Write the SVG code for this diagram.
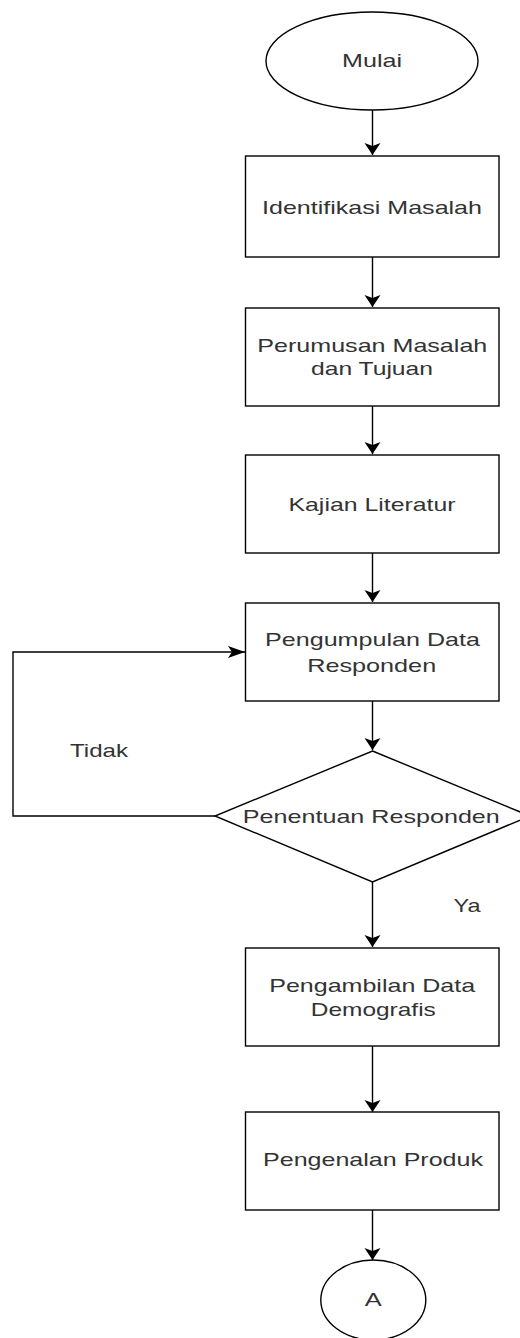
<svg xmlns="http://www.w3.org/2000/svg" width="520" height="1338" viewBox="0 0 520 1338">
<defs>
<style>
.s{fill:#fff;stroke:#000;stroke-width:1.4}
.t{font-family:"Liberation Sans",Arial,sans-serif;font-size:19px;fill:#333;text-anchor:middle}
.c{fill:none;stroke:#000;stroke-width:1.4}
</style>
<marker id="ad" markerUnits="userSpaceOnUse" orient="auto" markerWidth="20" markerHeight="20" refX="0" refY="0" viewBox="-14 -10 16 20" overflow="visible">
<path d="M-12,-8 L0,0 L-12,8 L-9,0 Z" fill="#000"/>
</marker>
<marker id="ar" markerUnits="userSpaceOnUse" orient="auto" markerWidth="20" markerHeight="20" refX="0" refY="0" viewBox="-18 -7 20 14" overflow="visible">
<path d="M-17,-6 L0,0 L-17,6 L-13,0 Z" fill="#000"/>
</marker>
</defs>
<g id="connectors">
<path class="c" d="M372.5,110 V155" marker-end="url(#ad)"/>
<path class="c" d="M372.5,257 V307" marker-end="url(#ad)"/>
<path class="c" d="M372.5,406 V454" marker-end="url(#ad)"/>
<path class="c" d="M372.5,553 V602" marker-end="url(#ad)"/>
<path class="c" d="M372.5,701 V750" marker-end="url(#ad)"/>
<path class="c" d="M372.5,882 V947" marker-end="url(#ad)"/>
<path class="c" d="M372.5,1046 V1112" marker-end="url(#ad)"/>
<path class="c" d="M372.5,1210 V1260" marker-end="url(#ad)"/>
<path class="c" d="M215,816 H13 V652 H245" marker-end="url(#ar)"/>
<text class="t" x="99" y="757" textLength="58" lengthAdjust="spacingAndGlyphs">Tidak</text>
<text class="t" x="467" y="912" textLength="27" lengthAdjust="spacingAndGlyphs">Ya</text>
</g>
<g id="mulai">
<ellipse class="s" cx="372" cy="61" rx="106" ry="49"/>
<text class="t" x="372" y="67" textLength="60" lengthAdjust="spacingAndGlyphs">Mulai</text>
</g>
<g id="identifikasi">
<rect class="s" x="245.5" y="156" width="253.5" height="101"/>
<text class="t" x="372" y="214" textLength="220" lengthAdjust="spacingAndGlyphs">Identifikasi Masalah</text>
</g>
<g id="perumusan">
<rect class="s" x="245.5" y="308" width="253.5" height="98"/>
<text class="t" x="372.3" y="352" textLength="230" lengthAdjust="spacingAndGlyphs">Perumusan Masalah</text>
<text class="t" x="372" y="375" textLength="122" lengthAdjust="spacingAndGlyphs">dan Tujuan</text>
</g>
<g id="kajian">
<rect class="s" x="245.5" y="455" width="253.5" height="98"/>
<text class="t" x="372" y="511" textLength="167" lengthAdjust="spacingAndGlyphs">Kajian Literatur</text>
</g>
<g id="pengumpulan">
<rect class="s" x="245.5" y="603" width="253.5" height="98"/>
<text class="t" x="372.5" y="646" textLength="215" lengthAdjust="spacingAndGlyphs">Pengumpulan Data</text>
<text class="t" x="371.7" y="671.5" textLength="129" lengthAdjust="spacingAndGlyphs">Responden</text>
</g>
<g id="penentuan">
<polygon class="s" points="372.5,751 530,816 372.5,882 215,816"/>
<text class="t" x="371.3" y="822.5" textLength="257" lengthAdjust="spacingAndGlyphs">Penentuan Responden</text>
</g>
<g id="pengambilan">
<rect class="s" x="245.5" y="948" width="253.5" height="98"/>
<text class="t" x="372.2" y="992" textLength="206" lengthAdjust="spacingAndGlyphs">Pengambilan Data</text>
<text class="t" x="373.3" y="1016" textLength="125" lengthAdjust="spacingAndGlyphs">Demografis</text>
</g>
<g id="pengenalan">
<rect class="s" x="245.5" y="1112" width="253.5" height="98"/>
<text class="t" x="373" y="1166" textLength="220" lengthAdjust="spacingAndGlyphs">Pengenalan Produk</text>
</g>
<g id="a">
<ellipse class="s" cx="373.3" cy="1300" rx="52.5" ry="40"/>
<text class="t" x="373.3" y="1306" textLength="17" lengthAdjust="spacingAndGlyphs">A</text>
</g>
</svg>
